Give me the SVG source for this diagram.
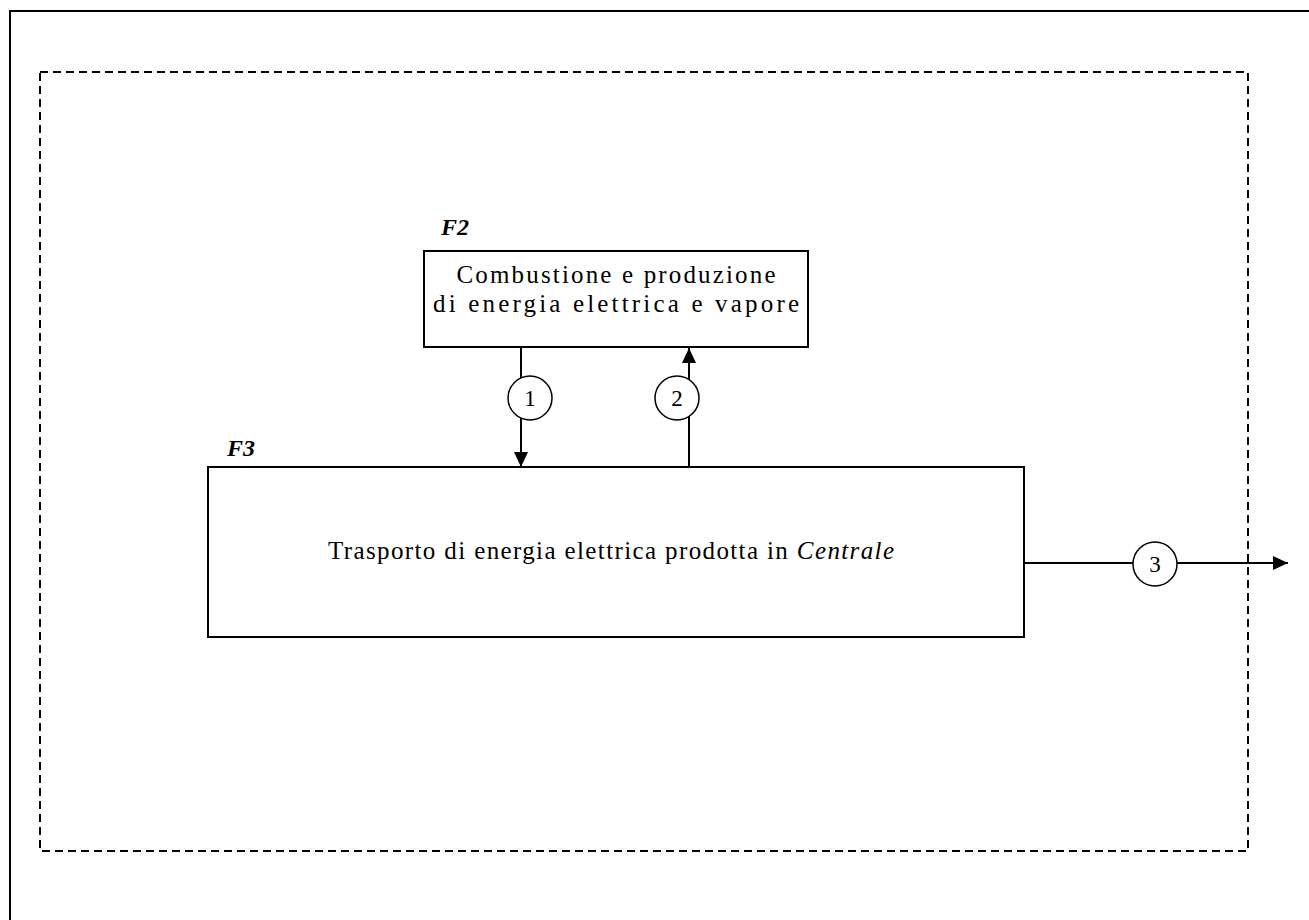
<svg xmlns="http://www.w3.org/2000/svg" width="1309" height="920" viewBox="0 0 1309 920">
<style>
.ln{stroke:#000;stroke-width:2;fill:none}
.box{stroke:#000;stroke-width:2;fill:#fff}
.dash{stroke:#000;stroke-width:2;fill:none;stroke-dasharray:8,5}
.circ{stroke:#000;stroke-width:1.5;fill:#fff}
.t{font-family:"Liberation Serif","Times New Roman",serif;font-size:25px;fill:#000}
.lbl{font-family:"Liberation Serif","Times New Roman",serif;font-size:24px;font-weight:bold;font-style:italic;fill:#000}
.num{font-family:"Liberation Serif","Times New Roman",serif;font-size:23px;fill:#000;text-anchor:middle}
</style>
<defs>
<marker id="ah" markerWidth="15" markerHeight="14" refX="15" refY="7" orient="auto" markerUnits="userSpaceOnUse">
<path d="M0,0 L15,7 L0,14 Z" fill="#000"/>
</marker>
</defs>
<g id="frame">
<path class="ln" d="M10,920 V11 H1309"/>
</g>
<g id="boundary">
<rect class="dash" x="40" y="72" width="1208" height="779"/>
</g>
<g id="connectors">
<line class="ln" x1="521" y1="347" x2="521" y2="467" marker-end="url(#ah)"/>
<line class="ln" x1="689" y1="467" x2="689" y2="348" marker-end="url(#ah)"/>
<line class="ln" x1="1024" y1="563" x2="1288" y2="563" marker-end="url(#ah)"/>
</g>
<g id="F2">
<rect class="box" x="424" y="251" width="384" height="96"/>
<text class="lbl" x="441" y="235">F2</text>
<text class="t" x="616" y="283" text-anchor="middle" textLength="319" lengthAdjust="spacing">Combustione e produzione</text>
<text class="t" x="616" y="312" text-anchor="middle" textLength="366" lengthAdjust="spacing">di energia elettrica e vapore</text>
</g>
<g id="F3">
<rect class="box" x="208" y="467" width="816" height="170"/>
<text class="lbl" x="227" y="456">F3</text>
<text class="t" x="328" y="559" textLength="566" lengthAdjust="spacing">Trasporto di energia elettrica prodotta in <tspan font-style="italic">Centrale</tspan></text>
</g>
<g id="flow1">
<circle class="circ" cx="530" cy="398" r="22"/>
<text class="num" x="530" y="406">1</text>
</g>
<g id="flow2">
<circle class="circ" cx="677" cy="398" r="22"/>
<text class="num" x="677" y="406">2</text>
</g>
<g id="flow3">
<circle class="circ" cx="1155" cy="564" r="22"/>
<text class="num" x="1155" y="572">3</text>
</g>
</svg>
